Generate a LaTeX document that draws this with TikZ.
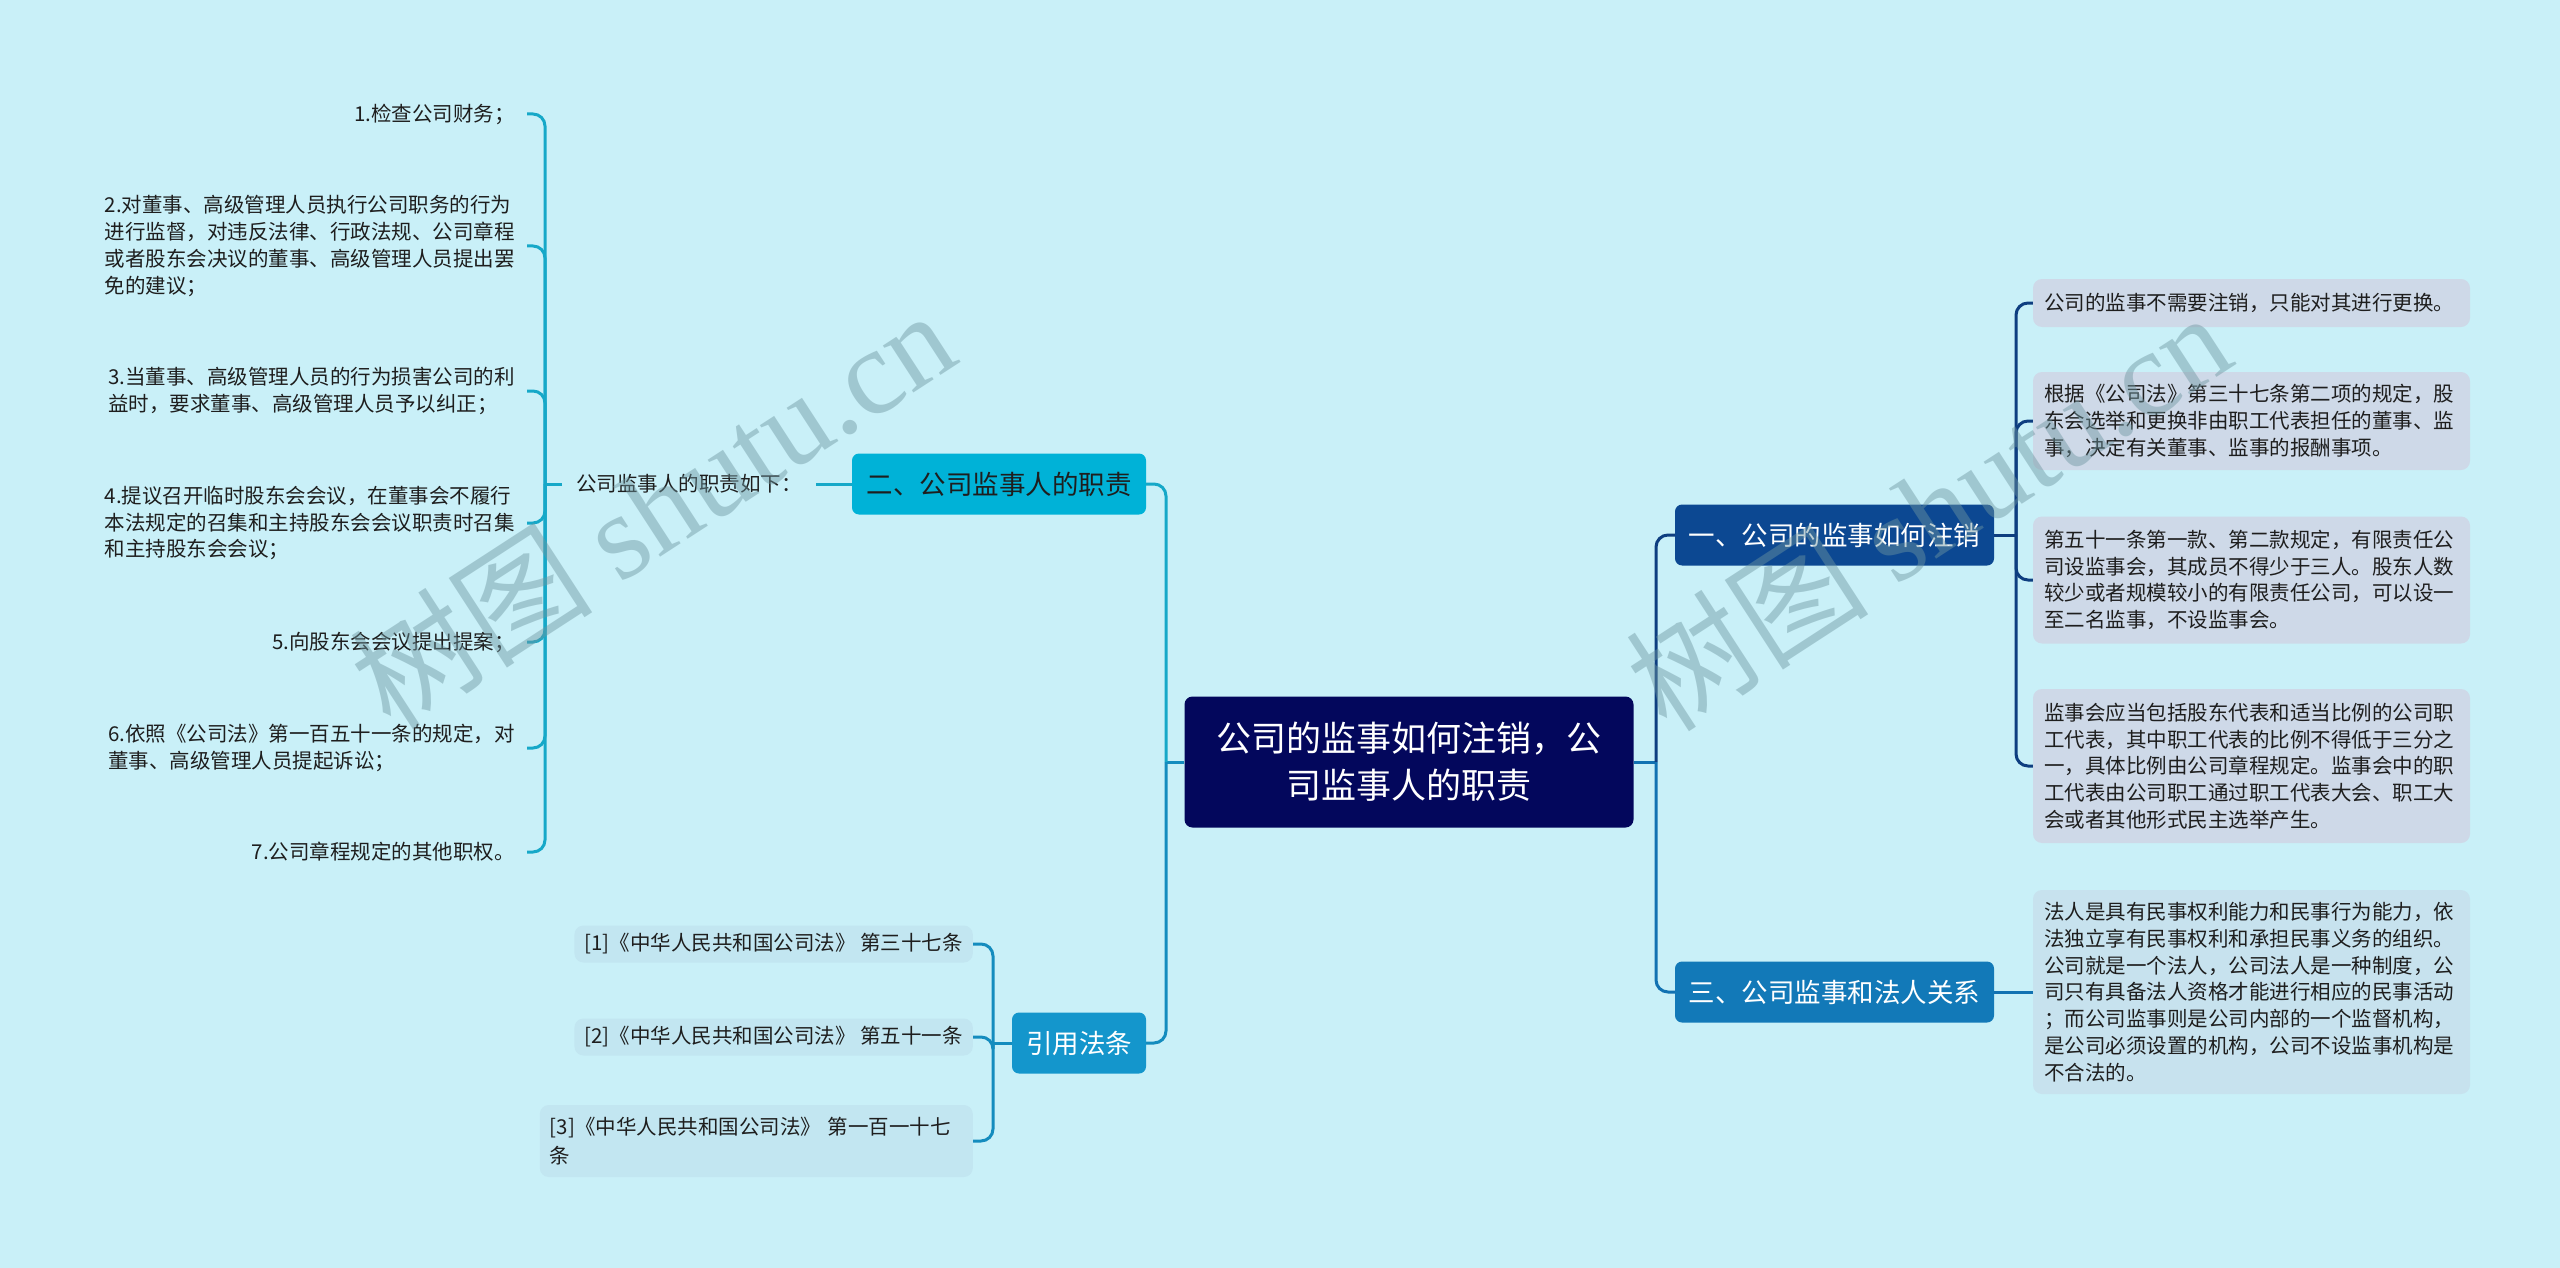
\documentclass[tikz,border=0pt]{standalone}
\usepackage{fontspec}
\setmainfont{Noto Sans CJK SC}
\newfontfamily\wmlatin{Liberation Serif}
\definecolor{bgc}{RGB}{201,240,248}
\definecolor{rootc}{RGB}{3,7,92}
\definecolor{c1}{RGB}{12,72,146}
\definecolor{c2}{RGB}{0,178,215}
\definecolor{c3}{RGB}{18,121,184}
\definecolor{c4}{RGB}{20,150,204}
\definecolor{l1}{RGB}{14,62,128}
\definecolor{l2}{RGB}{22,168,200}
\definecolor{l3}{RGB}{18,114,178}
\definecolor{l4}{RGB}{20,140,190}
\definecolor{leafa}{RGB}{206,217,232}
\definecolor{leafe}{RGB}{199,226,238}
\definecolor{refc}{RGB}{194,230,241}
\definecolor{txt}{RGB}{30,30,30}
\definecolor{wm}{RGB}{110,150,160}
\begin{document}
\begin{tikzpicture}[x=1pt,y=-1pt,
  rootbox/.style={fill=rootc, rounded corners=8pt, text=white, font=\fontsize{35}{47}\selectfont,
    align=center, minimum width=449pt, minimum height=131pt, inner sep=0pt},
  branch/.style={rounded corners=7pt, font=\fontsize{26.5}{32}\selectfont, minimum height=61pt,
    inner xsep=12pt, inner ysep=0pt},
  leaf/.style={rounded corners=9pt, fill=leafa, text=txt, font=\fontsize{20.5}{26.8}\selectfont,
    text width=415pt, align=left, inner xsep=11pt, inner ysep=0pt},
  itemtxt/.style={text=txt, font=\fontsize{20.5}{26.8}\selectfont, align=left, inner xsep=12pt, inner ysep=0pt},
  refbox/.style={fill=refc, rounded corners=9pt, text=txt, font=\fontsize{20.5}{28.5}\selectfont,
    align=left, inner xsep=10pt, inner ysep=0pt, minimum height=37pt, anchor=east},
  conn/.style={line width=3pt, rounded corners=12pt},
  wmark/.style={rotate=33, text=wm, opacity=0.45, font=\fontsize{122}{122}\selectfont}
]
\fill[bgc] (0,0) rectangle (2560,1268);
\useasboundingbox (0,0) rectangle (2560,1268);

% root and branches
\node[rootbox] (root) at (1409,762) {公司的监事如何注销，公\\司监事人的职责};
\node[branch, fill=c2, text=txt, minimum width=294pt] (n2) at (999,484) {二、公司监事人的职责};
\node[branch, fill=c4, text=white, minimum width=134pt] (ref) at (1079,1043) {引用法条};
\node[branch, fill=c1, text=white, minimum width=319pt] (n1) at (1834.5,535) {一、公司的监事如何注销};
\node[branch, fill=c3, text=white, minimum width=319pt] (n3) at (1834.5,992) {三、公司监事和法人关系};

% right leaves
\node[leaf, minimum height=48pt] (a) at (2251.5,303) {公司的监事不需要注销，只能对其进行更换。};
\node[leaf, minimum height=98pt] (b) at (2251.5,421) {根据《公司法》第三十七条第二项的规定，股\\东会选举和更换非由职工代表担任的董事、监\\事，决定有关董事、监事的报酬事项。};
\node[leaf, minimum height=127pt] (c) at (2251.5,580) {第五十一条第一款、第二款规定，有限责任公\\司设监事会，其成员不得少于三人。股东人数\\较少或者规模较小的有限责任公司，可以设一\\至二名监事，不设监事会。};
\node[leaf, minimum height=154pt] (d) at (2251.5,766) {监事会应当包括股东代表和适当比例的公司职\\工代表，其中职工代表的比例不得低于三分之\\一，具体比例由公司章程规定。监事会中的职\\工代表由公司职工通过职工代表大会、职工大\\会或者其他形式民主选举产生。};
\node[leaf, fill=leafe, minimum height=204pt] (e) at (2251.5,992) {法人是具有民事权利能力和民事行为能力，依\\法独立享有民事权利和承担民事义务的组织。\\公司就是一个法人，公司法人是一种制度，公\\司只有具备法人资格才能进行相应的民事活动\\；而公司监事则是公司内部的一个监督机构，\\是公司必须设置的机构，公司不设监事机构是\\不合法的。};

% left sub and items
\node[itemtxt, anchor=west, inner xsep=14pt] (sub) at (562,484) {公司监事人的职责如下：};
\node[itemtxt, anchor=east] (i1) at (527,114) {1.检查公司财务；};
\node[itemtxt, anchor=east] (i2) at (527,246) {2.对董事、高级管理人员执行公司职务的行为\\进行监督，对违反法律、行政法规、公司章程\\或者股东会决议的董事、高级管理人员提出罢\\免的建议；};
\node[itemtxt, anchor=east] (i3) at (527,391) {3.当董事、高级管理人员的行为损害公司的利\\益时，要求董事、高级管理人员予以纠正；};
\node[itemtxt, anchor=east] (i4) at (527,523) {4.提议召开临时股东会会议，在董事会不履行\\本法规定的召集和主持股东会会议职责时召集\\和主持股东会会议；};
\node[itemtxt, anchor=east] (i5) at (527,642) {5.向股东会会议提出提案；};
\node[itemtxt, anchor=east] (i6) at (527,748) {6.依照《公司法》第一百五十一条的规定，对\\董事、高级管理人员提起诉讼；};
\node[itemtxt, anchor=east] (i7) at (527,852) {7.公司章程规定的其他职权。};

% references
\node[refbox] (r1) at (973,944) {[1]《中华人民共和国公司法》 第三十七条};
\node[refbox] (r2) at (973,1037) {[2]《中华人民共和国公司法》 第五十一条};
\node[refbox, text width=413pt, minimum height=72pt] (r3) at (973,1141) {[3]《中华人民共和国公司法》 第一百一十七\\条};

% junctions
\coordinate (J1) at (1166,762);
\coordinate (J2) at (1656,762);
\coordinate (J3) at (2016,535);
\coordinate (J4) at (993,1043);
\coordinate (J5) at (545,484);

% connectors
\draw[conn, l4] (root.west) -- (J1);
\draw[conn, l2] (J1) |- (n2.east);
\draw[conn, l4] (J1) |- (ref.east);
\draw[conn, l3] (root.east) -- (J2);
\draw[conn, l1] (J2) |- (n1.west);
\draw[conn, l3] (J2) |- (n3.west);

\draw[conn, l1] (n1.east) -- (J3);
\foreach \n in {a,b,c,d} \draw[conn, l1] (J3) |- (\n.west);
\draw[conn, l3] (n3.east) -- (e.west);

\draw[conn, l2] (n2.west) -- (sub.east);
\draw[conn, l2] (sub.west) -- (J5);
\foreach \n in {i1,i2,i3,i4,i5,i6,i7} \draw[conn, l2] (J5) |- (\n.east);

\draw[conn, l4] (ref.west) -- (J4);
\foreach \n in {r1,r2,r3} \draw[conn, l4] (J4) |- (\n.east);

% watermarks
\node[wmark] (wm1) at (652,508) {树图 {\wmlatin shutu.cn}};
\node[wmark] (wm2) at (1928,510) {树图 {\wmlatin shutu.cn}};
\end{tikzpicture}
\end{document}
